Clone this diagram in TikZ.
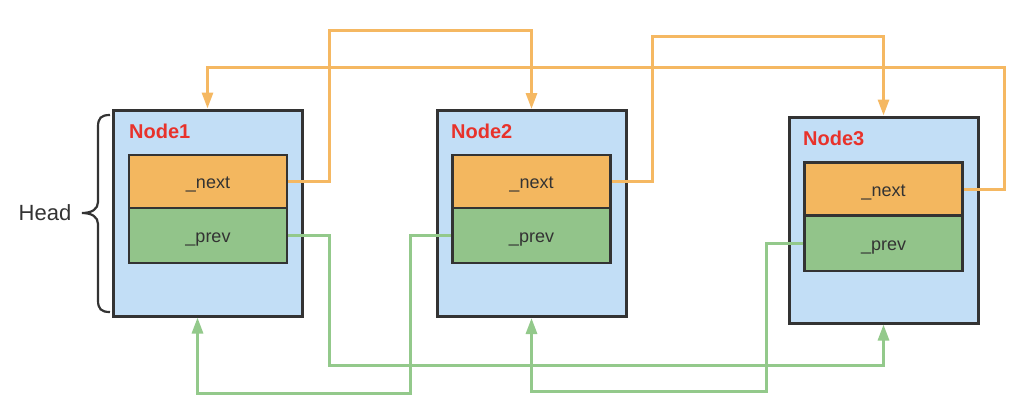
\documentclass[tikz,border=0pt]{standalone}
\usepackage{fontspec}
\setmainfont{Liberation Sans}
\usetikzlibrary{arrows.meta}
\definecolor{boxblue}{HTML}{C2DEF6}
\definecolor{nextfill}{HTML}{F3B75F}
\definecolor{prevfill}{HTML}{92C48A}
\definecolor{oline}{HTML}{F5B862}
\definecolor{gline}{HTML}{93C98B}
\definecolor{border}{HTML}{333333}
\definecolor{lblred}{HTML}{E8322B}
\tikzset{
  outerbox/.style={draw=border,line width=3pt,fill=boxblue,minimum width=189pt,minimum height=206pt,inner sep=0pt},
  nextbox/.style={draw=border,line width=2.6pt,fill=nextfill,minimum width=158pt,minimum height=53pt,inner sep=0pt,text height=14pt,text depth=0pt,font=\fontsize{18}{20}\selectfont,text=border},
  prevbox/.style={draw=border,line width=2.6pt,fill=prevfill,minimum width=158pt,minimum height=55pt,inner sep=0pt,text height=14pt,text depth=0pt,font=\fontsize{18}{20}\selectfont,text=border},
  nodelbl/.style={anchor=west,inner sep=0pt,font=\fontsize{20}{22}\selectfont\bfseries,text=lblred},
  olink/.style={draw=oline,line width=3pt,-{Triangle[length=16pt,width=11pt]}},
  glink/.style={draw=gline,line width=3pt,-{Triangle[length=16pt,width=11pt]}},
}
\begin{document}
\begin{tikzpicture}[x=1pt,y=-1pt]
\useasboundingbox (0,0) rectangle (1024,418);
% outer boxes
\node[outerbox] (n1) at (207.5,213) {};
\node[outerbox] (n2) at (531.5,213.5) {};
\node[outerbox] (n3) at (883.5,220) {};
% labels
\node[nodelbl] (l1) at (129,131) {Node1};
\node[nodelbl] (l2) at (451,131) {Node2};
\node[nodelbl] (l3) at (803,138) {Node3};
% inner boxes
\node[nextbox] (n1next) at (208,181.5) {\_next};
\node[prevbox] (n1prev) at (208,235.5) {\_prev};
\node[nextbox] (n2next) at (531.5,181.5) {\_next};
\node[prevbox] (n2prev) at (531.5,235.5) {\_prev};
\node[nextbox] (n3next) at (883.5,189) {\_next};
\node[prevbox] (n3prev) at (883.5,243.5) {\_prev};
% waypoints
\coordinate (o1) at (329,30);
\coordinate (o2) at (652,36);
\coordinate (o3) at (1004,67);
\coordinate (g1) at (329,365);
\coordinate (g2) at (410,393);
\coordinate (g3) at (766,391);
% orange next links
\draw[olink] (n1next.east) -| (o1) -| (n2.north);
\draw[olink] (n2next.east) -| (o2) -| (n3.north);
\draw[olink] (n3next.east) -| (o3) -| (n1.north);
% green prev links
\draw[glink] (n1prev.east) -| (g1) -| (n3.south);
\draw[glink] (n2prev.west) -| (g2) -| ([xshift=-10pt]n1.south);
\draw[glink] (n3prev.west) -| (g3) -| (n2.south);
% brace and head
\draw[border,line width=2.2pt] (110,115) .. controls (101,115) and (98,118) .. (98,127) -- (98,202)
  .. controls (98,209) and (92,213) .. (82,213) .. controls (92,213) and (98,217) .. (98,224)
  -- (98,300) .. controls (98,309) and (101,312) .. (110,312);
\node[inner sep=0pt,font=\fontsize{22}{24}\selectfont,text=border] (head) at (45,213) {Head};
\end{tikzpicture}
\end{document}
